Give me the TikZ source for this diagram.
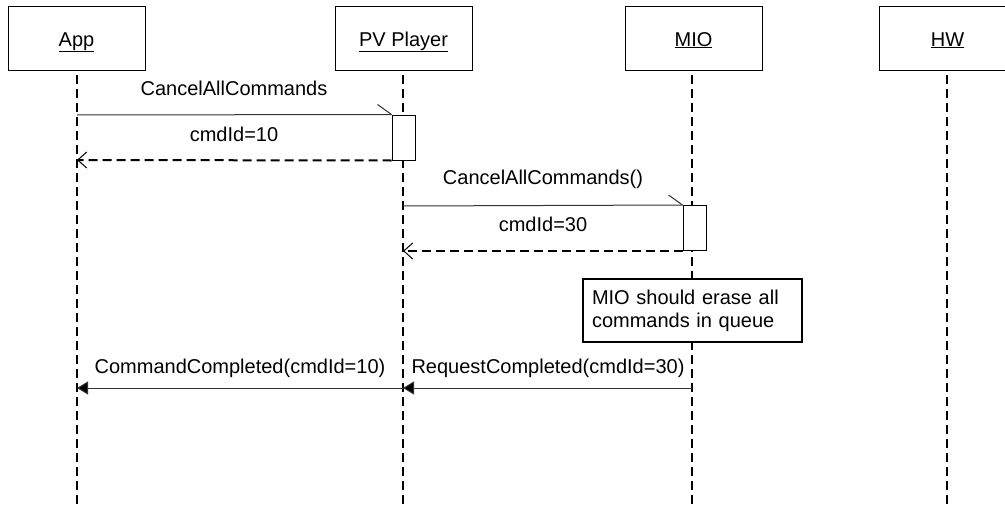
\documentclass[tikz,border=0pt]{standalone}
\usepackage{fontspec}
\setmainfont{Liberation Sans}
\usetikzlibrary{arrows.meta}
\tikzset{
  head/.style={draw=black, line width=1pt, fill=white, minimum width=137pt, minimum height=64pt, inner sep=0pt, text height=18pt, text depth=2pt, font=\fontsize{20}{23}\selectfont},
  life/.style={line width=2pt, dash pattern=on 9pt off 5pt},
  act/.style={draw=black, line width=1pt, fill=white, minimum width=23pt, inner sep=0pt},
  msg/.style={draw=black!80, line width=1pt},
  ret/.style={line width=2pt, dash pattern=on 9pt off 5pt, -{Straight Barb[length=9pt,width=16pt,line width=1pt]}},
  async/.style={msg, -{Triangle[length=11pt,width=13pt,fill=black]}},
  lbl/.style={font=\fontsize{20}{23}\selectfont, inner sep=0pt},
  notebox/.style={draw=black, line width=1.5pt, fill=white, align=left, font=\fontsize{20}{23}\selectfont, inner sep=0pt, minimum width=219pt, minimum height=63pt, text width=201pt}
}
\begin{document}
\begin{tikzpicture}[x=1pt,y=-1pt]
\useasboundingbox (0,0) rectangle (1005,506);
\clip (0,0) rectangle (1005,506);
% heads
\node[head] (app) at (76.5,38) {\underline{App}};
\node[head] (pv) at (403.5,38) {\underline{PV Player}};
\node[head] (mio) at (693.5,38) {\underline{MIO}};
\node[head] (hw) at (947.5,38) {\underline{HW}};
% lifeline ends
\coordinate (appE) at (77,506);
\coordinate (pvE) at (403,506);
\coordinate (mioE) at (692,506);
\coordinate (hwE) at (947,506);
\draw[life] (77,75) -- (appE);
\draw[life] (403,75) -- (pvE);
\draw[life] (692,75) -- (mioE);
\draw[life] (947,75) -- (hwE);
% activations
\node[act, minimum height=45pt] (act1) at (403.5,137.5) {};
\node[act, minimum height=45pt] (act2) at (694.5,228) {};
% lifeline points
\coordinate (a1) at (77,115);
\coordinate (a2) at (77,160);
\coordinate (p3) at (403,206);
\coordinate (p4) at (403,251);
% message 1
\draw[msg] (a1) -- (act1.north west);
\draw[msg] (act1.north west) -- ++(-14,-10);
\node[lbl] (l1) at (234,88) {CancelAllCommands};
\draw[ret] (act1.south west) -- (a2);
\node[lbl] (l2) at (234,134) {cmdId=10};
% message 2
\draw[msg] (p3) -- (act2.north west);
\draw[msg] (act2.north west) -- ++(-14,-10);
\node[lbl] (l3) at (543,179) {CancelAllCommands()};
\draw[ret] (act2.south west) -- (p4);
\node[lbl] (l4) at (543,224) {cmdId=30};
% note
\node[notebox] (note) at (692.5,310.5) {MIO should erase all\\commands in queue};
% async returns
\coordinate (m5) at (692,388);
\coordinate (p5) at (403,388);
\coordinate (a5) at (77,388);
\draw[async] (m5) -- (p5);
\node[lbl] (l5) at (548,368) {RequestCompleted(cmdId=30)};
\draw[async] (p5) -- (a5);
\node[lbl] (l6) at (240,368) {CommandCompleted(cmdId=10)};
\end{tikzpicture}
\end{document}
